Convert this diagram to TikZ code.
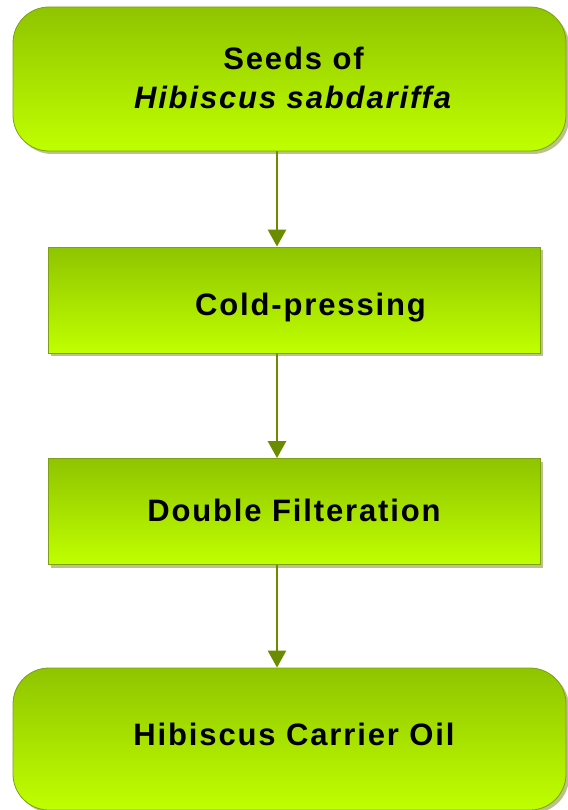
\documentclass[tikz,border=0pt]{standalone}
\usepackage{fontspec}
\setmainfont{Liberation Sans}[LetterSpace=6]
\usetikzlibrary{arrows.meta,shadows}
\definecolor{limetop}{RGB}{143,196,0}
\definecolor{limebot}{RGB}{192,255,0}
\definecolor{limeedge}{RGB}{125,160,20}
\definecolor{arrowgreen}{RGB}{108,140,0}
\definecolor{shadowgray}{RGB}{185,196,140}
% text placed by its baseline: shift right, raise, text
\newcommand{\steplabel}[3]{\raisebox{#2}[0pt][0pt]{\hspace*{#1}#3}}
\tikzset{
  stepbox/.style={draw=limeedge, line width=0.8pt, top color=limetop, bottom color=limebot,
    drop shadow={shadow xshift=3pt, shadow yshift=-3pt, fill=shadowgray, opacity=1},
    minimum width=492pt, minimum height=106pt, inner sep=0pt,
    font=\fontsize{31}{39}\selectfont\bfseries},
  endbox/.style={stepbox, rounded corners=36pt, minimum width=553pt, minimum height=144pt},
  flow/.style={draw=arrowgreen, line width=2.7pt, -{Triangle[width=18pt,length=17pt]}}
}
\begin{document}
\begin{tikzpicture}[x=1pt,y=-1pt]
\useasboundingbox (0,0) rectangle (567,810);
\node[endbox] (seeds) at (289.5,79)
  {\steplabel{8pt}{9.7pt}{\parbox[t]{400pt}{\centering Seeds of\\\textit{Hibiscus sabdariffa}}}};
\node[stepbox] (cold) at (294,300) {\steplabel{33pt}{-15pt}{Cold-pressing}};
\node[stepbox] (filter) at (294,511.5) {\steplabel{0pt}{-10.2pt}{Double Filteration}};
\node[endbox, minimum height=142pt] (oil) at (289.5,739) {\steplabel{9pt}{-6pt}{Hibiscus Carrier Oil}};
\coordinate (ax) at (277,0);
\foreach \a/\b in {seeds/cold, cold/filter, filter/oil}
  \draw[flow] (\a.south -| ax) -- (\b.north -| ax);
\end{tikzpicture}
\end{document}
